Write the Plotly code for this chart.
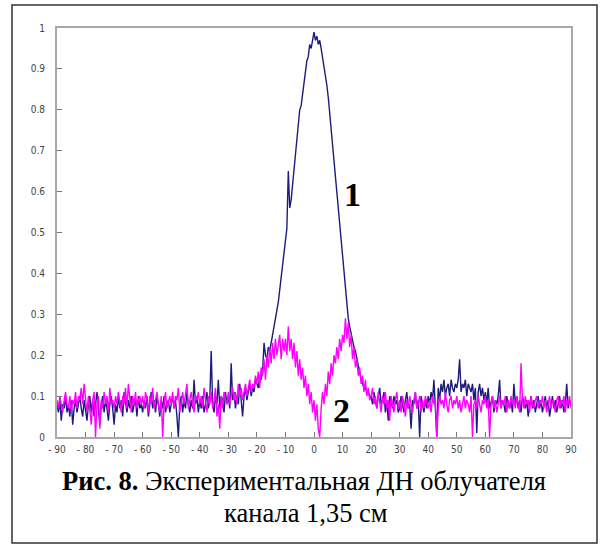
import plotly.graph_objects as go

# Angles, degrees (0.5 degree step)
angle = [i * 0.5 for i in range(-180, 181)]

# Curve 1 (dark blue)
curve1 = [
    0.08,0.06,0.09,0.04,0.08,0.07,0.10,0.06,0.08,0.05,0.09,0.03,0.07,0.09,0.06,0.08,0.10,0.07,0.05,0.09,  # -90
    0.07,0.04,0.08,0.10,0.06,0.09,0.05,0.08,0.11,0.07,0.03,0.08,0.10,0.06,0.09,0.07,0.04,0.08,0.10,0.07,  # -80
    0.03,0.08,0.06,0.10,0.07,0.09,0.05,0.11,0.08,0.06,0.09,0.07,0.10,0.06,0.08,0.09,0.05,0.10,0.07,0.08,  # -70
    0.06,0.09,0.07,0.10,0.05,0.08,0.11,0.07,0.09,0.06,0.10,0.08,0.05,0.09,0.07,0.10,0.06,0.08,0.09,0.06,  # -60
    0.08,0.10,0.07,0.09,0.05,0.00,0.08,0.10,0.06,0.09,0.07,0.11,0.08,0.06,0.09,0.07,0.14,0.08,0.10,0.06,  # -50
    0.09,0.07,0.10,0.06,0.08,0.11,0.07,0.09,0.21,0.08,0.06,0.10,0.08,0.14,0.07,0.10,0.09,0.06,0.11,0.08,  # -40
    0.10,0.07,0.18,0.09,0.11,0.07,0.10,0.08,0.13,0.09,0.05,0.10,0.12,0.09,0.11,0.13,0.10,0.12,0.11,0.14,  # -30
    0.13,0.12,0.15,0.14,0.16,0.23,0.20,0.19,0.22,0.21,0.23,0.25,0.26,0.29,0.31,0.33,0.36,0.39,0.42,0.45,  # -20
    0.47,0.51,0.65,0.56,0.58,0.62,0.65,0.69,0.72,0.76,0.80,0.81,0.84,0.87,0.89,0.92,0.93,0.96,0.95,0.97,  # -10
    0.99,0.97,0.98,0.96,0.97,0.95,0.93,0.91,0.89,0.86,0.83,0.79,0.76,0.72,0.68,0.65,0.61,0.56,0.52,0.48,  # 0
    0.44,0.40,0.36,0.32,0.29,0.27,0.25,0.23,0.22,0.21,0.19,0.17,0.16,0.14,0.13,0.12,0.12,0.11,0.11,0.10,  # 10
    0.10,0.08,0.11,0.09,0.07,0.10,0.12,0.08,0.09,0.11,0.06,0.09,0.04,0.10,0.08,0.07,0.10,0.08,0.09,0.06,  # 20
    0.07,0.10,0.08,0.06,0.09,0.11,0.07,0.08,0.02,0.09,0.08,0.11,0.07,0.09,0.00,0.10,0.08,0.06,0.09,0.07,  # 30
    0.10,0.08,0.11,0.09,0.14,0.07,0.00,0.12,0.09,0.13,0.11,0.14,0.10,0.12,0.13,0.10,0.14,0.12,0.11,0.13,  # 40
    0.12,0.14,0.19,0.11,0.13,0.12,0.14,0.10,0.13,0.12,0.11,0.13,0.09,0.12,0.01,0.11,0.13,0.10,0.12,0.09,  # 50
    0.11,0.08,0.12,0.07,0.09,0.10,0.06,0.09,0.08,0.10,0.14,0.07,0.09,0.08,0.06,0.10,0.08,0.07,0.09,0.06,  # 60
    0.13,0.08,0.10,0.07,0.09,0.06,0.10,0.08,0.07,0.09,0.05,0.08,0.10,0.07,0.09,0.06,0.08,0.10,0.07,0.09,  # 70
    0.06,0.08,0.10,0.07,0.09,0.05,0.08,0.10,0.07,0.09,0.06,0.08,0.10,0.07,0.09,0.06,0.08,0.13,0.07,0.09,  # 80
    0.08,                                                                                                  # 90
]

# Curve 2 (magenta)
curve2 = [
    0.09,0.07,0.10,0.08,0.06,0.09,0.11,0.08,0.07,0.10,0.06,0.09,0.08,0.11,0.07,0.10,0.09,0.12,0.08,0.13,  # -90
    0.09,0.06,0.10,0.07,0.03,0.09,0.11,0.00,0.08,0.10,0.02,0.09,0.07,0.11,0.08,0.10,0.06,0.12,0.08,0.09,  # -80
    0.07,0.10,0.08,0.11,0.09,0.06,0.10,0.08,0.12,0.07,0.13,0.09,0.06,0.10,0.08,0.11,0.07,0.09,0.10,0.08,  # -70
    0.10,0.07,0.11,0.09,0.06,0.10,0.08,0.12,0.07,0.09,0.11,0.08,0.06,0.10,0.00,0.08,0.11,0.07,0.09,0.10,  # -60
    0.08,0.11,0.07,0.10,0.09,0.12,0.06,0.09,0.11,0.08,0.10,0.13,0.07,0.09,0.11,0.08,0.06,0.10,0.09,0.11,  # -50
    0.08,0.10,0.07,0.12,0.09,0.06,0.10,0.08,0.11,0.07,0.09,0.12,0.05,0.08,0.02,0.10,0.07,0.11,0.09,0.08,  # -40
    0.11,0.08,0.10,0.12,0.09,0.11,0.08,0.13,0.10,0.12,0.09,0.11,0.13,0.10,0.12,0.14,0.11,0.13,0.12,0.15,  # -30
    0.13,0.16,0.12,0.17,0.15,0.19,0.14,0.20,0.17,0.22,0.18,0.23,0.19,0.24,0.20,0.22,0.25,0.19,0.24,0.21,  # -20
    0.24,0.20,0.27,0.21,0.24,0.19,0.23,0.17,0.21,0.15,0.19,0.14,0.17,0.12,0.15,0.10,0.13,0.08,0.11,0.06,  # -10
    0.09,0.04,0.08,0.02,0.00,0.07,0.11,0.08,0.13,0.10,0.16,0.13,0.18,0.15,0.20,0.18,0.22,0.19,0.24,0.21,  # 0
    0.25,0.23,0.29,0.24,0.28,0.22,0.25,0.19,0.22,0.17,0.19,0.15,0.17,0.13,0.15,0.11,0.14,0.10,0.12,0.09,  # 10
    0.10,0.12,0.08,0.10,0.07,0.11,0.09,0.06,0.10,0.08,0.11,0.07,0.09,0.04,0.10,0.08,0.06,0.09,0.11,0.07,  # 20
    0.09,0.06,0.10,0.08,0.05,0.09,0.07,0.10,0.08,0.06,0.09,0.11,0.07,0.08,0.10,0.06,0.09,0.07,0.10,0.08,  # 30
    0.07,0.09,0.06,0.10,0.08,0.09,0.00,0.07,0.10,0.08,0.09,0.07,0.11,0.08,0.06,0.09,0.10,0.07,0.09,0.08,  # 40
    0.10,0.07,0.09,0.06,0.08,0.10,0.07,0.09,0.08,0.06,0.10,0.00,0.08,0.09,0.07,0.10,0.08,0.06,0.09,0.08,  # 50
    0.10,0.07,0.09,0.00,0.08,0.10,0.07,0.09,0.06,0.08,0.10,0.07,0.09,0.08,0.10,0.06,0.09,0.07,0.10,0.08,  # 60
    0.09,0.07,0.10,0.08,0.06,0.18,0.09,0.07,0.10,0.08,0.09,0.06,0.10,0.08,0.07,0.09,0.10,0.07,0.09,0.08,  # 70
    0.10,0.07,0.09,0.06,0.08,0.10,0.07,0.09,0.08,0.06,0.09,0.10,0.07,0.09,0.08,0.10,0.06,0.09,0.08,0.10,  # 80
    0.07,                                                                                                  # 90
]

x_tickvals = list(range(-90, 91, 10))
x_ticktext = ["- 90", "- 80", "- 70", "- 60", "- 50", "- 40", "- 30", "- 20", "- 10",
              "0", "10", "20", "30", "40", "50", "60", "70", "80", "90"]
y_tickvals = [0, 0.1, 0.2, 0.3, 0.4, 0.5, 0.6, 0.7, 0.8, 0.9, 1]
y_ticktext = ["0", "0.1", "0.2", "0.3", "0.4", "0.5", "0.6", "0.7", "0.8", "0.9", "1"]

caption_line1 = "<b>Рис. 8.</b> Экспериментальная ДН облучателя"
caption_line2 = "канала 1,35 см"

W, H = 608, 548
L, R, T, B = 57, 37, 28, 111
pw, ph = W - L - R, H - T - B


def px(x):
    return (x - L) / pw


def py(y):
    return (H - B - y) / ph


fig = go.Figure()
fig.add_trace(go.Scatter(x=angle, y=curve1, mode="lines",
                         line=dict(color="#1c1c7c", width=1.4), showlegend=False))
fig.add_trace(go.Scatter(x=angle, y=curve2, mode="lines",
                         line=dict(color="#ff00ff", width=1.4), showlegend=False))

tickfont = dict(family="Liberation Sans Narrow, DejaVu Sans Condensed, sans-serif", size=10, color="#444444")
serif = "Liberation Serif, Times New Roman, DejaVu Serif, serif"

fig.update_layout(
    width=W, height=H,
    margin=dict(l=L, r=R, t=T, b=B, pad=0),
    paper_bgcolor="white", plot_bgcolor="white",
    xaxis=dict(range=[-90, 90], tickvals=x_tickvals, ticktext=x_ticktext,
               ticks="inside", ticklen=5, tickcolor="#777777", tickwidth=1,
               showline=True, mirror=True, linecolor="#a8a8a8", linewidth=2,
               showgrid=False, zeroline=False, tickfont=tickfont, ticklabelstandoff=2),
    yaxis=dict(range=[0, 1], tickvals=y_tickvals, ticktext=y_ticktext,
               ticks="inside", ticklen=5, tickcolor="#777777", tickwidth=1,
               showline=True, mirror=True, linecolor="#a8a8a8", linewidth=2,
               showgrid=False, zeroline=False, tickfont=tickfont, ticklabelstandoff=8),
    shapes=[dict(type="rect", xref="paper", yref="paper",
                 x0=px(12), x1=px(597), y0=py(543), y1=py(5),
                 line=dict(color="#333333", width=1.5), fillcolor="rgba(0,0,0,0)")],
    annotations=[
        dict(text="1", x=px(352), y=py(194), xref="paper", yref="paper",
             showarrow=False, xanchor="center", yanchor="middle",
             font=dict(family=serif, size=34, color="black", weight="bold")),
        dict(text="2", x=px(341), y=py(410), xref="paper", yref="paper",
             showarrow=False, xanchor="center", yanchor="middle",
             font=dict(family=serif, size=34, color="black", weight="bold")),
        dict(text=caption_line1, x=px(304), y=py(481), xref="paper", yref="paper",
             showarrow=False, xanchor="center", yanchor="middle",
             font=dict(family=serif, size=26.5, color="black")),
        dict(text=caption_line2, x=px(306), y=py(513), xref="paper", yref="paper",
             showarrow=False, xanchor="center", yanchor="middle",
             font=dict(family=serif, size=26.5, color="black")),
    ],
)

fig.write_html("out.html")
